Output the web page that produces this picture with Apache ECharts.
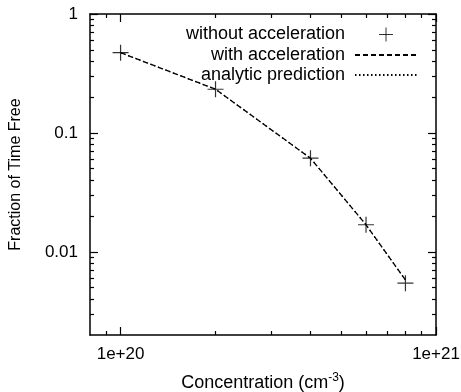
<!DOCTYPE html>
<html>
<head>
<meta charset="utf-8">
<script src="https://cdn.jsdelivr.net/npm/echarts@6/dist/echarts.min.js"></script>
<style>
  html, body { margin: 0; padding: 0; background: #fff; }
  #chart { width: 461px; height: 392px; }
</style>
</head>
<body>
<div id="chart"></div>
<script>
// concentration (cm^-3) and fraction of time free
const concentration = [1e20, 2e20, 4e20, 6e20, 8e20]
const withoutAccel = [0.473, 0.233, 0.0613, 0.0169, 0.00546]
const withAccel = [0.473, 0.233, 0.0613, 0.0169, 0.0058]
const analytic = [0.473, 0.233, 0.0613, 0.0169, 0.0058]

const xRange = [8e19, 1e21]
const yRange = [0.002, 1]
const xMajorTicks = [1e20, 1e21]
const xMajorLabels = ['1e+20', '1e+21']
const xMinorTicks = [9e19, 2e20, 3e20, 4e20, 5e20, 6e20, 7e20, 8e20, 9e20]
const yMajorTicks = [1, 0.1, 0.01]
const yMajorLabels = ['1', '0.1', '0.01']
const yMinorTicks = [
  0.003, 0.004, 0.005, 0.006, 0.007, 0.008, 0.009,
  0.02, 0.03, 0.04, 0.05, 0.06, 0.07, 0.08, 0.09,
  0.2, 0.3, 0.4, 0.5, 0.6, 0.7, 0.8, 0.9,
]

const lg = (v) => Math.log10(v)
const FONT = "'Liberation Sans', Arial, Helvetica, sans-serif"
const black = '#000'

const chart = echarts.init(document.getElementById('chart'))

const labelFor = (ticks, labels) => (value) => {
  const i = ticks.findIndex((t) => Math.abs(lg(t) - value) < 1e-6)
  return i >= 0 ? labels[i] : ''
}

// one axis per tick set; major and minor ticks get their own axis so they can differ in length
const makeAxis = (range, position, ticks, tickLen, opts) => ({
  type: 'value',
  position,
  min: lg(range[0]),
  max: lg(range[1]),
  axisLine: { show: !!opts.line, onZero: false, lineStyle: { color: black, width: 1.5 } },
  axisTick: {
    show: true,
    inside: true,
    length: tickLen,
    customValues: ticks.map(lg),
    lineStyle: { color: black, width: 1.2 },
  },
  axisLabel: opts.labels
    ? {
        show: true,
        customValues: ticks.map(lg),
        formatter: labelFor(ticks, opts.labels),
        color: black,
        fontFamily: FONT,
        fontSize: 17,
        margin: opts.margin,
      }
    : { show: false },
  splitLine: { show: false },
  ...(opts.extra || {}),
})

const toPairs = (ys) => concentration.map((x, i) => [lg(x), lg(ys[i])])

const crossPath = 'path://M0,8L16,8M8,0L8,16'
const noSymbol = { color: 'rgba(0,0,0,0)', borderWidth: 0 }

const option = {
  animation: false,
  backgroundColor: '#fff',
  grid: { left: 90, right: 25, top: 14, bottom: 57, outerBoundsMode: 'none' },
  xAxis: [
    makeAxis(xRange, 'bottom', xMajorTicks, 8, {
      line: true,
      labels: xMajorLabels,
      margin: 11,
      extra: {
        name: '{a|Concentration (cm}{s|-3}{a|)}',
        nameLocation: 'middle',
        nameGap: 37,
        nameTextStyle: {
          rich: {
            a: { fontFamily: FONT, fontSize: 18, color: black },
            s: { fontFamily: FONT, fontSize: 12, color: black, verticalAlign: 'top', padding: [0, 0, 10, 0] },
          },
        },
      },
    }),
    makeAxis(xRange, 'bottom', xMinorTicks, 4, {}),
    makeAxis(xRange, 'top', xMajorTicks, 8, { line: true }),
    makeAxis(xRange, 'top', xMinorTicks, 4, {}),
  ],
  yAxis: [
    makeAxis(yRange, 'left', yMajorTicks, 8, {
      line: true,
      labels: yMajorLabels,
      margin: 12,
      extra: {
        name: 'Fraction of Time Free',
        nameLocation: 'middle',
        nameGap: 66,
        nameTextStyle: { fontFamily: FONT, fontSize: 16, color: black },
      },
    }),
    makeAxis(yRange, 'left', yMinorTicks, 4, {}),
    makeAxis(yRange, 'right', yMajorTicks, 8, { line: true }),
    makeAxis(yRange, 'right', yMinorTicks, 4, {}),
  ],
  legend: {
    orient: 'vertical',
    right: 38,
    top: 20,
    align: 'right',
    itemWidth: 62,
    itemHeight: 14,
    itemGap: 2,
    formatter: (name) => name + ' ',
    textStyle: { fontFamily: FONT, fontSize: 18, lineHeight: 18, color: black },
    data: [
      {
        name: 'without acceleration',
        icon: crossPath,
        itemStyle: { color: 'none', borderColor: black, borderWidth: 1 },
      },
      { name: 'with acceleration', itemStyle: noSymbol },
      { name: 'analytic prediction', itemStyle: noSymbol },
    ],
  },
  series: [
    {
      name: 'analytic prediction',
      type: 'line',
      data: toPairs(analytic),
      symbol: 'none',
      lineStyle: { color: black, width: 1.2, type: [1.5, 2.5] },
      itemStyle: { color: black },
    },
    {
      name: 'with acceleration',
      type: 'line',
      data: toPairs(withAccel),
      symbol: 'none',
      lineStyle: { color: black, width: 1.3, type: [5, 3] },
      itemStyle: { color: black },
    },
    {
      name: 'without acceleration',
      type: 'scatter',
      data: toPairs(withoutAccel),
      symbol: crossPath,
      symbolSize: 16,
      itemStyle: { color: 'none', borderColor: black, borderWidth: 1.2 },
    },
  ],
}

chart.setOption(option)
</script>
</body>
</html>
